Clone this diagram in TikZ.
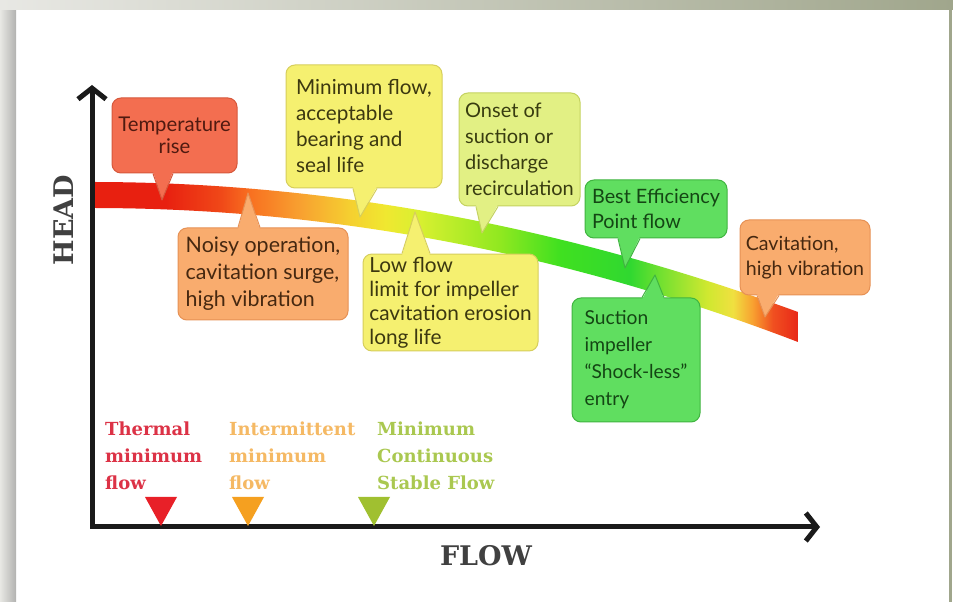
\documentclass[tikz,border=0pt]{standalone}
\usepackage{fontspec}
\setmainfont{Lato}
\newfontfamily\slabfont{DejaVu Serif}
\usetikzlibrary{arrows.meta, calc}

\definecolor{framelight}{RGB}{232, 232, 228}
\definecolor{framedark}{RGB}{178, 178, 176}
\definecolor{frameolive}{RGB}{160, 166, 140}
\definecolor{axisblack}{RGB}{26, 26, 26}
\definecolor{labelgray}{RGB}{64, 64, 64}

\definecolor{redfill}{RGB}{243, 110, 80}
\definecolor{redline}{RGB}{214, 88, 60}
\definecolor{redtext}{RGB}{80, 26, 16}
\definecolor{orangefill}{RGB}{249, 172, 110}
\definecolor{orangeline}{RGB}{230, 145, 85}
\definecolor{orangetext}{RGB}{70, 40, 16}
\definecolor{yellowfill}{RGB}{245, 240, 112}
\definecolor{yellowline}{RGB}{214, 206, 92}
\definecolor{yellowtext}{RGB}{60, 56, 16}
\definecolor{limefill}{RGB}{226, 240, 132}
\definecolor{limeline}{RGB}{196, 210, 96}
\definecolor{limetext}{RGB}{56, 60, 16}
\definecolor{greenfill}{RGB}{96, 222, 96}
\definecolor{greenline}{RGB}{64, 180, 64}
\definecolor{greentext}{RGB}{20, 70, 20}

\definecolor{thermalcol}{RGB}{220, 50, 70}
\definecolor{intercol}{RGB}{245, 185, 100}
\definecolor{mcsfcol}{RGB}{170, 200, 80}
\definecolor{thermaltri}{RGB}{232, 32, 40}
\definecolor{intertri}{RGB}{245, 160, 32}
\definecolor{mcsftri}{RGB}{160, 192, 48}

% band colours, left to right
\definecolor{band0}{RGB}{232, 32, 16}
\definecolor{band1}{RGB}{240, 72, 24}
\definecolor{band2}{RGB}{248, 112, 32}
\definecolor{band3}{RGB}{248, 160, 48}
\definecolor{band4}{RGB}{245, 208, 48}
\definecolor{band5}{RGB}{240, 232, 48}
\definecolor{band6}{RGB}{216, 240, 48}
\definecolor{band7}{RGB}{144, 232, 32}
\definecolor{band8}{RGB}{64, 224, 32}
\definecolor{band9}{RGB}{48, 216, 48}
\definecolor{band10}{RGB}{112, 224, 48}
\definecolor{band11}{RGB}{208, 232, 48}
\definecolor{band12}{RGB}{240, 224, 64}
\definecolor{band13}{RGB}{248, 160, 48}
\definecolor{band14}{RGB}{240, 80, 32}
\definecolor{band15}{RGB}{232, 40, 24}

\pgfdeclarehorizontalshading{headband}{100bp}{%
  color(0bp)=(band0); color(30.2bp)=(band0); color(34.1bp)=(band1);
  color(36.2bp)=(band2); color(39.7bp)=(band3); color(43.3bp)=(band4);
  color(45.8bp)=(band5); color(48.2bp)=(band6); color(53.9bp)=(band7);
  color(58.1bp)=(band8); color(63.1bp)=(band9); color(65.2bp)=(band10);
  color(68.6bp)=(band11); color(70.4bp)=(band12); color(71.8bp)=(band13);
  color(73.2bp)=(band14); color(75bp)=(band15); color(100bp)=(band15)}

\tikzset{
  axis/.style={line width=5pt, draw=axisblack, line join=miter,
    {Straight Barb[length=11pt, width=28pt]}-{Straight Barb[length=11pt, width=28pt]}},
  axislabel/.style={text=labelgray, font=\slabfont\bfseries\fontsize{27}{30}\selectfont},
  callout/.style={rectangle, rounded corners=9pt, line width=1pt, align=left,
    inner sep=3pt, font=\fontsize{20.5}{26}\selectfont},
  minlabel/.style={anchor=west, align=left, inner sep=0pt,
    font=\slabfont\bfseries\fontsize{18}{27}\selectfont}
}

% pointer of a callout: box, side, tip, left x, right x, shift into box, palette
\newcommand{\calltip}[7]{%
  \fill[#7fill] ($(#4,0 |- #1.#2)+(0,#6)$) -- (#3) -- ($(#5,0 |- #1.#2)+(0,#6)$) -- cycle;
  \draw[#7line, line width=1pt, line join=round] (#4,0 |- #1.#2) -- (#3) -- (#5,0 |- #1.#2);}

\begin{document}
\begin{tikzpicture}[x=1pt, y=1pt]
  % Frame
  \useasboundingbox (0,0) rectangle (953,602);
  \fill[white] (0,0) rectangle (953,602);
  \shade[left color=framelight, right color=framedark] (0,0) rectangle (16,602);
  \shade[left color=framelight, right color=frameolive] (0,592) rectangle (953,602);
  \fill[frameolive] (949,0) rectangle (952,592);

  % Head curve
  \shade[shading=headband] (92,420) .. controls (327,420) and (563,376) .. (798,290)
    -- (798,260) .. controls (563,350) and (327,394) .. (92,394) -- cycle;

  % Axes
  \coordinate (origin) at (92,75);
  \coordinate (headtip) at (92,517);
  \coordinate (flowtip) at (820,75);
  \draw[axis] (headtip) -- (origin) -- (flowtip);
  \node[axislabel, rotate=90] (head) at (64,382) {HEAD};
  \node[axislabel] (flow) at (486,46) {FLOW};

  % Tips on the curve
  \coordinate (tTemp) at (162,402);
  \coordinate (tNoisy) at (248,409);
  \coordinate (tMin) at (360,385);
  \coordinate (tLow) at (415,390);
  \coordinate (tOnset) at (482,369);
  \coordinate (tBep) at (625,334);
  \coordinate (tSuction) at (655,327);
  \coordinate (tCav) at (765,285);

  % Callouts
  \node[callout, fill=redfill, draw=redline, text=redtext, align=center,
    minimum width=125pt, minimum height=75pt, font=\fontsize{20.3}{22}\selectfont]
    (temp) at (174.5,466.5) {Temperature\\rise};
  \calltip{temp}{south}{tTemp}{153}{173}{2}{red}

  \node[callout, fill=orangefill, draw=orangeline, text=orangetext,
    minimum width=170pt, minimum height=92pt, font=\fontsize{21.4}{27}\selectfont]
    (noisy) at (263,328) {Noisy operation,\\cavitation surge,\\high vibration};
  \calltip{noisy}{north}{tNoisy}{238}{260}{-2}{orange}

  \node[callout, fill=yellowfill, draw=yellowline, text=yellowtext,
    minimum width=156pt, minimum height=123pt, font=\fontsize{20.7}{26}\selectfont]
    (minflow) at (364,475.5) {Minimum flow,\\acceptable\\bearing and\\seal life};
  \calltip{minflow}{south}{tMin}{353}{377}{2}{yellow}

  \node[callout, fill=yellowfill, draw=yellowline, text=yellowtext,
    minimum width=175pt, minimum height=95pt, font=\fontsize{20.8}{24}\selectfont]
    (low) at (450.5,299.5) {Low flow\\limit for impeller\\cavitation erosion\\long life};
  \calltip{low}{north}{tLow}{402}{430}{-2}{yellow}

  \node[callout, fill=limefill, draw=limeline, text=limetext,
    minimum width=121pt, minimum height=113pt, font=\fontsize{20}{26}\selectfont]
    (onset) at (519.5,452.5) {Onset of\\suction or\\discharge\\recirculation};
  \calltip{onset}{south}{tOnset}{476}{498}{2}{lime}

  \node[callout, fill=greenfill, draw=greenline, text=greentext,
    minimum width=142pt, minimum height=58pt, font=\fontsize{19.8}{25}\selectfont]
    (bep) at (656,393) {Best Efficiency\\Point flow};
  \calltip{bep}{south}{tBep}{618}{640}{2}{green}

  \node[callout, fill=greenfill, draw=greenline, text=greentext,
    minimum width=128pt, minimum height=124pt, font=\fontsize{19.2}{27}\selectfont]
    (suction) at (636,242) {Suction\\impeller\\``Shock-less''\\entry};
  \calltip{suction}{north}{tSuction}{642}{664}{-2}{green}

  \node[callout, fill=orangefill, draw=orangeline, text=orangetext,
    minimum width=130pt, minimum height=75pt, font=\fontsize{19.6}{25}\selectfont]
    (cav) at (805,344.5) {Cavitation,\\high vibration};
  \calltip{cav}{south}{tCav}{757}{779}{2}{orange}

  % Minimum flow markers
  \node[minlabel, text=thermalcol] (thermal) at (105,146) {Thermal\\minimum\\flow};
  \node[minlabel, text=intercol] (intermittent) at (229,146) {Intermittent\\minimum\\flow};
  \node[minlabel, text=mcsfcol] (mcsf) at (377,146) {Minimum\\Continuous\\Stable Flow};
  \foreach \x/\c in {161/thermaltri, 248/intertri, 374/mcsftri}
    \fill[\c] (\x-16,105) -- (\x+16,105) -- (\x,76) -- cycle;
\end{tikzpicture}
\end{document}
